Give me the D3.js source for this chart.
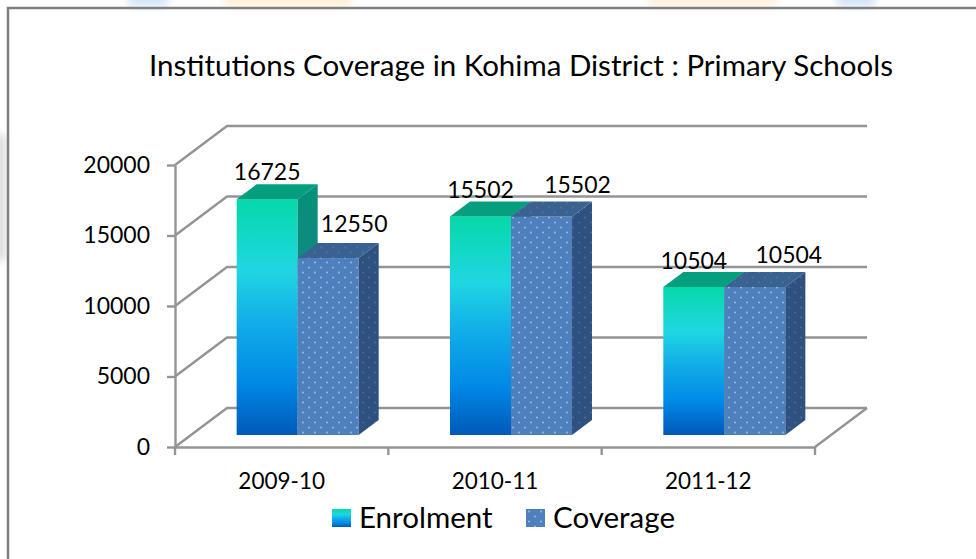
<!DOCTYPE html>
<meta charset="utf-8">
<script src="https://d3js.org/d3.v7.min.js"></script>
<style>
body { margin: 0; background: #fff; overflow: hidden; }
text { font-family: Lato, "Open Sans", sans-serif; fill: #000; }
.wall { fill: none; stroke: #949494; stroke-width: 2.4; }
.axis path, .axis line { stroke: #949494; stroke-width: 2.4; }
</style>
<body>
<script>
// values
var categories = ["2009-10", "2010-11", "2011-12"];
var seriesNames = ["Enrolment", "Coverage"];
var enrolment = [16725, 15502, 10504];
var coverage = [12550, 15502, 10504];
var yTicks = [0, 5000, 10000, 15000, 20000];

// label nudges from the top centre of each bar, same order as the series
var labelDx = [[0, 0, 0], [26, 36, 34]];
var labelDy = [[-27, -26, -26], [-34, -31, -32]];

var width = 976, height = 559;
var wallDx = 52, wallDy = -39;   // depth of the chart box
var barDx = 20, barDy = -15;     // depth of a bar
var gapDx = 16, gapDy = -12;     // front of floor to front of bar

var svg = d3.select("body").append("svg")
  .attr("width", width)
  .attr("height", height);

var defs = svg.append("defs");
defs.append("filter").attr("id", "soft")
  .attr("x", "-30%").attr("y", "-60%").attr("width", "160%").attr("height", "220%")
  .append("feGaussianBlur").attr("stdDeviation", 4);

function gradient(id, stops) {
  var g = defs.append("linearGradient").attr("id", id)
    .attr("x1", 0).attr("y1", 0).attr("x2", 0).attr("y2", 1);
  stops.forEach(function(s) {
    g.append("stop").attr("offset", s[0]).attr("stop-color", s[1]);
  });
}
gradient("enrolFront", [[0, "#05d9a9"], [0.3, "#20d6e2"], [0.52, "#12aee8"], [0.78, "#0088e6"], [1, "#0059b8"]]);
gradient("enrolSide", [[0, "#07907a"], [1, "#1c7c8c"]]);

function dots(id, base, dot) {
  var p = defs.append("pattern").attr("id", id)
    .attr("patternUnits", "userSpaceOnUse")
    .attr("width", 12).attr("height", 10);
  p.append("rect").attr("width", 12).attr("height", 10).attr("fill", base);
  [[3, 2.5], [9, 7.5]].forEach(function(c) {
    p.append("circle").attr("cx", c[0]).attr("cy", c[1]).attr("r", 1).attr("fill", dot);
  });
}
dots("covFront", "#4d80bd", "#9dbadd");
dots("covTop", "#3a6291", "#4f729c");
dots("covSide", "#2f5180", "#4b6d97");

// washed out page background around the frame
var smudges = [[128, 40, "#cfe2f6"], [224, 128, "#fdf0d2"], [647, 131, "#fdf0d8"], [837, 38, "#cfe2f6"]];
svg.append("g").selectAll("rect").data(smudges).join("rect")
  .attr("x", function(d) { return d[0]; })
  .attr("y", -6)
  .attr("width", function(d) { return d[1]; })
  .attr("height", 12)
  .attr("fill", function(d) { return d[2]; })
  .attr("filter", "url(#soft)");
svg.append("rect").attr("x", -8).attr("y", 135).attr("width", 14).attr("height", 125)
  .attr("fill", "#dcdcdc").attr("filter", "url(#soft)");

svg.append("path").attr("d", "M8,559V8H976")
  .attr("fill", "none").attr("stroke", "#7f7f7f").attr("stroke-width", 2.5);

var y = d3.scaleLinear().domain([0, 20000]).range([447, 165]);
var x0 = d3.scaleBand().domain(categories).range([175, 815]).paddingInner(0.428).paddingOuter(0.214);
var x1 = d3.scaleBand().domain(seriesNames).range([0, x0.bandwidth()]);
var step = x0.step();

// back wall grid and floor
var left = x0.range()[0], right = x0.range()[1];
svg.append("g").selectAll("path").data(yTicks).join("path")
  .attr("class", "wall")
  .attr("d", function(d) {
    var p = d3.path();
    p.moveTo(left, y(d));
    p.lineTo(left + wallDx, y(d) + wallDy);
    p.lineTo(right + wallDx, y(d) + wallDy);
    return p.toString();
  });
var floorEdge = d3.path();
floorEdge.moveTo(right, y(0));
floorEdge.lineTo(right + wallDx, y(0) + wallDy);
svg.append("path").attr("class", "wall").attr("d", floorEdge.toString());

// axes
var yAxis = svg.append("g").attr("class", "axis")
  .attr("transform", "translate(" + left + ",0)")
  .call(d3.axisLeft(y).tickValues(yTicks).tickSize(8).tickSizeOuter(0).tickFormat(d3.format("d")));
yAxis.selectAll("text").attr("x", -25).style("font-size", "23px").style("font-family", null);

var xAxis = svg.append("g").attr("class", "axis")
  .attr("transform", "translate(0," + y(0) + ")")
  .call(d3.axisBottom(x0).tickSize(0).tickPadding(26));
xAxis.selectAll("text").style("font-size", "22.5px").style("font-family", null);
xAxis.selectAll(".boundary").data(d3.range(categories.length + 1)).join("line")
  .attr("class", "boundary")
  .attr("x1", function(i) { return left + i * step; })
  .attr("x2", function(i) { return left + i * step; })
  .attr("y1", 0).attr("y2", 8);

// bars, enrolment first so coverage sits in front of its side face
var fills = [
  { front: "url(#enrolFront)", top: "#059f80", side: "url(#enrolSide)" },
  { front: "url(#covFront)", top: "url(#covTop)", side: "url(#covSide)" }
];
var series = [enrolment, coverage];

seriesNames.forEach(function(name, s) {
  var g = svg.append("g");
  series[s].forEach(function(v, i) {
    var xa = x0(categories[i]) + x1(name) + gapDx;
    var xb = xa + x1.bandwidth();
    var yb = y(0) + gapDy;
    var yt = y(v) + gapDy;

    g.append("rect")
      .attr("x", xa).attr("y", yt)
      .attr("width", xb - xa).attr("height", yb - yt)
      .attr("fill", fills[s].front);
    g.append("path")
      .attr("d", "M" + xa + "," + yt + "L" + (xa + barDx) + "," + (yt + barDy) +
        "L" + (xb + barDx) + "," + (yt + barDy) + "L" + xb + "," + yt + "Z")
      .attr("fill", fills[s].top);
    g.append("path")
      .attr("d", "M" + xb + "," + yt + "L" + (xb + barDx) + "," + (yt + barDy) +
        "L" + (xb + barDx) + "," + (yb + barDy) + "L" + xb + "," + yb + "Z")
      .attr("fill", fills[s].side);
  });
});

// data labels go on top of everything
seriesNames.forEach(function(name, s) {
  svg.append("g").selectAll("text").data(series[s]).join("text")
    .attr("x", function(d, i) {
      return x0(categories[i]) + x1(name) + gapDx + x1.bandwidth() / 2 + labelDx[s][i];
    })
    .attr("y", function(d, i) { return y(d) + gapDy + labelDy[s][i]; })
    .attr("dy", "0.35em")
    .attr("text-anchor", "middle")
    .style("font-size", "23px")
    .text(function(d) { return d; });
});

svg.append("text")
  .attr("x", 521).attr("y", 66).attr("dy", "0.35em")
  .attr("text-anchor", "middle")
  .style("font-size", "29.5px")
  .text("Institutions Coverage in Kohima District : Primary Schools");

// legend
var legendX = [332, 526];
var legend = svg.append("g").selectAll("g").data(seriesNames).join("g")
  .attr("transform", function(d, i) { return "translate(" + legendX[i] + ",509)"; });
legend.append("rect")
  .attr("width", 19).attr("height", 18)
  .attr("fill", function(d, i) { return fills[i].front; });
legend.append("text")
  .attr("x", 27).attr("y", 9).attr("dy", "0.35em")
  .style("font-size", "29.5px")
  .text(function(d) { return d; });
</script>
</body>
